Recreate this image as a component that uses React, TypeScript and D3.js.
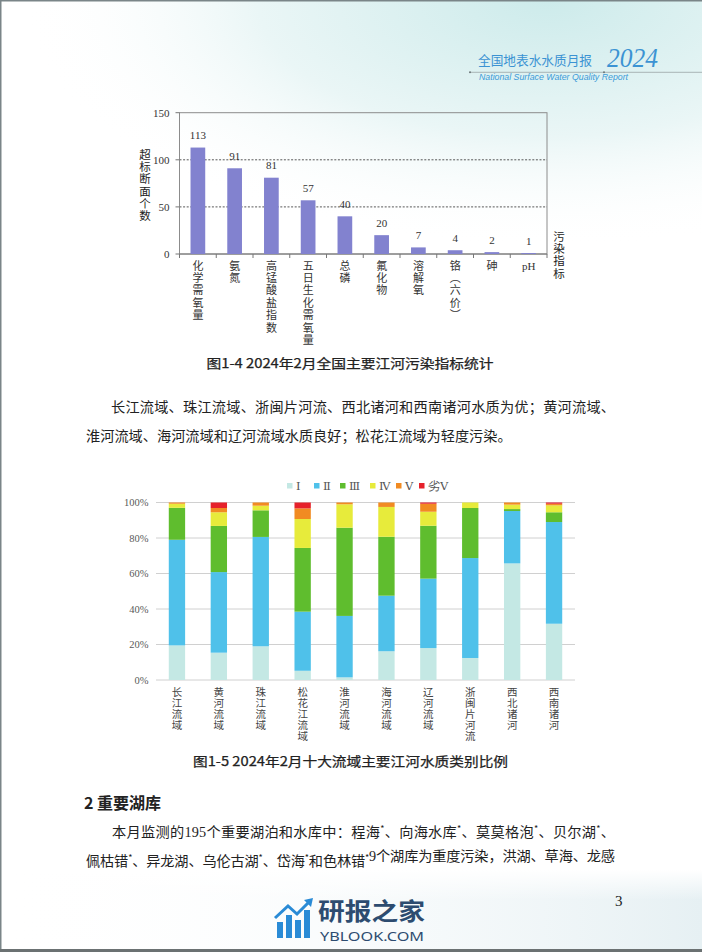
import React from "react";
import * as d3 from "d3";

// ---------- Data ----------
const indicators = ["化学需氧量", "氨氮", "高锰酸盐指数", "五日生化需氧量", "总磷", "氟化物", "溶解氧", "铬（六价）", "砷", "pH"];
const exceedCounts = [113, 91, 81, 57, 40, 20, 7, 4, 2, 1];
const countTicks = [0, 50, 100, 150];

const basins = ["长江流域", "黄河流域", "珠江流域", "松花江流域", "淮河流域", "海河流域", "辽河流域", "浙闽片河流", "西北诸河", "西南诸河"];
const classNames = ["Ⅰ", "Ⅱ", "Ⅲ", "Ⅳ", "Ⅴ", "劣Ⅴ"];
const classI = [19.5, 15.4, 19.0, 5.2, 1.5, 16.2, 18.0, 12.4, 65.7, 31.7];
const classII = [59.5, 45.4, 61.6, 33.3, 34.6, 31.3, 39.1, 56.3, 29.5, 57.3];
const classIII = [18.0, 26.0, 15.0, 35.9, 49.7, 33.2, 29.8, 28.2, 1.1, 5.5];
const classIV = [2.3, 7.7, 2.6, 16.3, 13.2, 16.8, 7.9, 3.1, 2.5, 3.9];
const classV = [0.7, 2.4, 1.8, 6.0, 1.0, 2.5, 4.5, 0, 1.2, 0.9];
const classWorseV = [0, 3.1, 0, 3.3, 0, 0, 0.7, 0, 0, 0.7];
const pctTicks = [0, 20, 40, 60, 80, 100];
const classColors = ["#c4e8e4", "#4fc1ea", "#5fbd2e", "#e7eb3b", "#f18b22", "#e6212b"];

const CJK = "'Noto Sans CJK SC', 'Noto Sans', sans-serif";
const SERIF = "'Liberation Serif', 'DejaVu Serif', serif";

const isAscii = (s: string) => /^[\x00-\x7f]+$/.test(s);

function vchars(label: string): string[] {
  if (isAscii(label)) return [label];
  return Array.from(label).map((c) => (c === "（" ? "︵" : c === "）" ? "︶" : c));
}

function VLabel(props: { x: number; y: number; text: string; size: number; pitch: number; fill: string }) {
  const { x, y, text, size, pitch, fill } = props;
  return (
    <g>
      {vchars(text).map((ch, j) => (
        <text
          key={j}
          x={x}
          y={y + j * pitch}
          textAnchor="middle"
          fontFamily={isAscii(ch) ? SERIF : CJK}
          fontSize={size}
          fill={fill}
        >
          {ch}
        </text>
      ))}
    </g>
  );
}

export default function App() {
  // chart 1 scales
  const x1 = d3.scaleBand<string>().domain(indicators).range([179.5, 547]).paddingInner(0.6).paddingOuter(0.3);
  const y1 = d3.scaleLinear().domain([0, 150]).range([254, 112.7]);
  const step1 = x1.step();

  // chart 2 scales
  const x2 = d3.scaleBand<string>().domain(basins).range([156, 575]).paddingInner(0.61).paddingOuter(0.305);
  const y2 = d3.scaleLinear().domain([0, 100]).range([680, 502.5]);
  const rows = basins.map((b, i) => ({
    basin: b,
    c0: classI[i],
    c1: classII[i],
    c2: classIII[i],
    c3: classIV[i],
    c4: classV[i],
    c5: classWorseV[i],
  }));
  const keys = ["c0", "c1", "c2", "c3", "c4", "c5"];
  const series = d3.stack<any>().keys(keys)(rows);

  const legendX = [287, 314, 340, 370, 396, 419];

  const sup = (t: string) => (
    <>
      <tspan fontSize={9} dy={-5}>*</tspan>
      <tspan dy={5}>{t}</tspan>
    </>
  );

  return (
    <svg
      width={702}
      height={952}
      style={{ position: "absolute", left: 0, top: 0, background: "#fff" }}
      xmlns="http://www.w3.org/2000/svg"
    >
      <defs>
        <radialGradient id="topGrad" cx="0.78" cy="0" r="0.75" fx="0.78" fy="0">
          <stop offset="0" stopColor="#cdebeb" />
          <stop offset="0.55" stopColor="#eaf6f6" />
          <stop offset="1" stopColor="#ffffff" stopOpacity={0} />
        </radialGradient>
        <linearGradient id="botGrad" x1="0" y1="0" x2="1" y2="0">
          <stop offset="0" stopColor="#ffffff" stopOpacity={0} />
          <stop offset="1" stopColor="#e6f0f3" />
        </linearGradient>
        <linearGradient id="botGradV" x1="0" y1="0" x2="0" y2="1">
          <stop offset="0" stopColor="#ffffff" stopOpacity={1} />
          <stop offset="1" stopColor="#ffffff" stopOpacity={0} />
        </linearGradient>
      </defs>

      {/* page background */}
      <rect x={0} y={0} width={702} height={952} fill="#fff" />
      <rect x={0} y={0} width={702} height={330} fill="url(#topGrad)" />
      <rect x={0} y={870} width={702} height={80} fill="url(#botGrad)" />
      <rect x={0} y={870} width={702} height={30} fill="url(#botGradV)" />
      <rect x={0} y={0} width={702} height={1.5} fill="#7a8588" />
      <rect x={0} y={0} width={1.5} height={952} fill="#7a8588" />
      <rect x={0} y={949} width={702} height={3} fill="#6b7172" />

      {/* header */}
      <text x={478} y={65} fontFamily={CJK} fontSize={12.8} fill="#3b93d3" textLength={114} lengthAdjust="spacingAndGlyphs">
        全国地表水水质月报
      </text>
      <text x={607} y={67} fontFamily={SERIF} fontStyle="italic" fontSize={28} fill="#3b93d3" textLength={51} lengthAdjust="spacingAndGlyphs">
        2024
      </text>
      <line x1={470} x2={702} y1={72.3} y2={72.3} stroke="#9aa3a6" strokeWidth={0.8} />
      <circle cx={470} cy={72.3} r={1} fill="#6d7679" />
      <circle cx={604} cy={72.3} r={1} fill="#6d7679" />
      <text x={479} y={80} fontFamily="'Liberation Sans', Arial, sans-serif" fontStyle="italic" fontSize={9} fill="#3b9ad8" textLength={149} lengthAdjust="spacingAndGlyphs">
        National Surface Water Quality Report
      </text>

      {/* ---------- Chart 1 ---------- */}
      <g>
        {[50, 100].map((t) => (
          <line key={t} x1={179.5} x2={547} y1={y1(t)} y2={y1(t)} stroke="#444" strokeWidth={0.9} strokeDasharray="2,1.6" />
        ))}
        <rect x={179.5} y={y1(150)} width={547 - 179.5} height={y1(0) - y1(150)} fill="none" stroke="#8c8c8c" strokeWidth={1} />
        <line x1={179.5} x2={547} y1={y1(0)} y2={y1(0)} stroke="#777" strokeWidth={1} />
        {countTicks.map((t) => (
          <g key={t}>
            <line x1={175.5} x2={179.5} y1={y1(t)} y2={y1(t)} stroke="#777" />
            <text x={169.5} y={y1(t) + 4} textAnchor="end" fontFamily={SERIF} fontSize={11} fill="#333">
              {t}
            </text>
          </g>
        ))}
        {d3.range(indicators.length + 1).map((i) => (
          <line key={i} x1={179.5 + i * step1} x2={179.5 + i * step1} y1={y1(0)} y2={y1(0) + 4} stroke="#777" />
        ))}
        {indicators.map((c, i) => (
          <rect key={c} x={x1(c)!} y={y1(exceedCounts[i])} width={x1.bandwidth()} height={y1(0) - y1(exceedCounts[i])} fill="#8282cf" />
        ))}
        {indicators.map((c, i) => (
          <text key={c} x={x1(c)! + x1.bandwidth() / 2} y={y1(exceedCounts[i]) - 8.5} textAnchor="middle" fontFamily={SERIF} fontSize={11} fill="#333">
            {exceedCounts[i]}
          </text>
        ))}
        {indicators.map((c) => (
          <VLabel key={c} x={x1(c)! + x1.bandwidth() / 2} y={269.5} text={c} size={11} pitch={12.4} fill="#333" />
        ))}
        <VLabel x={145} y={159} text="超标断面个数" size={11.5} pitch={12.2} fill="#222" />
        <VLabel x={559} y={241} text="污染指标" size={11.5} pitch={12.2} fill="#222" />
      </g>

      {/* caption 1 */}
      <text x={350} y={368} textAnchor="middle" fontFamily={CJK} fontWeight={400} fontSize={13} fill="#222" stroke="#222" strokeWidth={0.25} textLength={287} lengthAdjust="spacingAndGlyphs">
        图1-4  2024年2月全国主要江河污染指标统计
      </text>

      {/* paragraph 1 */}
      <text x={111} y={412} fontFamily={CJK} fontSize={14.2} fill="#222" textLength={504} lengthAdjust="spacing">
        长江流域、珠江流域、浙闽片河流、西北诸河和西南诸河水质为优；黄河流域、
      </text>
      <text x={86} y={441} fontFamily={CJK} fontSize={14.2} fill="#222">
        淮河流域、海河流域和辽河流域水质良好；松花江流域为轻度污染。
      </text>

      {/* ---------- Chart 2 ---------- */}
      <g>
        {classNames.map((n, i) => (
          <g key={n}>
            <rect x={legendX[i]} y={483} width={5.5} height={5.5} fill={classColors[i]} />
            <text x={legendX[i] + 9} y={490} fontFamily={SERIF} fontSize={11.5} fill="#555">
              {n}
            </text>
          </g>
        ))}
        {pctTicks.map((t) => (
          <g key={t}>
            <line x1={156} x2={575} y1={y2(t)} y2={y2(t)} stroke="#d0d0d0" strokeWidth={1} />
            <text x={148.5} y={y2(t) + 3.5} textAnchor="end" fontFamily={SERIF} fontSize={10.5} fill="#595959">
              {t}%
            </text>
          </g>
        ))}
        {series.map((s, si) => (
          <g key={si} fill={classColors[si]}>
            {s.map((d: any, i: number) =>
              d[1] - d[0] > 0 ? (
                <rect key={i} x={x2(basins[i])!} y={y2(d[1])} width={x2.bandwidth()} height={y2(d[0]) - y2(d[1])} />
              ) : null
            )}
          </g>
        ))}
        {basins.map((b) => (
          <VLabel key={b} x={x2(b)! + x2.bandwidth() / 2} y={696} text={b} size={10.5} pitch={11} fill="#444" />
        ))}
      </g>

      {/* caption 2 */}
      <text x={350.5} y={766} textAnchor="middle" fontFamily={CJK} fontWeight={400} fontSize={13} fill="#222" stroke="#222" strokeWidth={0.25} textLength={315} lengthAdjust="spacingAndGlyphs">
        图1-5  2024年2月十大流域主要江河水质类别比例
      </text>

      {/* section heading */}
      <text x={84} y={809} fontFamily={CJK} fontWeight={700} fontSize={16} fill="#222">
        2 重要湖库
      </text>

      {/* paragraph 2 */}
      <text x={112} y={837} fontFamily={CJK} fontSize={14.2} fill="#222" textLength={503} lengthAdjust="spacing">
        本月监测的<tspan fontFamily={SERIF}>195</tspan>个重要湖泊和水库中：程海{sup("、向海水库")}{sup("、莫莫格泡")}{sup("、贝尔湖")}{sup("、")}
      </text>
      <text x={86} y={866} fontFamily={CJK} fontSize={14.2} fill="#222" textLength={529} lengthAdjust="spacing">
        佩枯错{sup("、异龙湖、乌伦古湖")}{sup("、岱海")}{sup("和色林错")}{sup("")}<tspan fontFamily={SERIF}>9</tspan>个湖库为重度污染，洪湖、草海、龙感
      </text>

      {/* page number */}
      <text x={615} y={906} fontFamily={SERIF} fontSize={15} fill="#222">
        3
      </text>

      {/* watermark logo */}
      <g>
        <rect x={277} y={922} width={6} height={16} fill="#2a8bd6" />
        <rect x={286} y={915} width={6} height={23} fill="#2a8bd6" />
        <rect x={295} y={920} width={6} height={18} fill="#2a8bd6" />
        <rect x={304} y={910} width={6} height={28} fill="#2a8bd6" />
        <path d="M275,918 L288,906 L297,914 L309,902" fill="none" stroke="#2a8bd6" strokeWidth={3} />
        <path d="M304,900 L313,898 L311,907 Z" fill="#2a8bd6" />
        <text x={318} y={920} fontFamily={CJK} fontWeight={700} fontSize={24} fill="#2d4c70" textLength={107} lengthAdjust="spacingAndGlyphs">
          研报之家
        </text>
        <text x={320} y={941} fontFamily="'Noto Sans', 'Open Sans', sans-serif" fontSize={12} fill="#2d4c70" textLength={104} lengthAdjust="spacingAndGlyphs">
          YBLOOK.COM
        </text>
      </g>
    </svg>
  );
}
